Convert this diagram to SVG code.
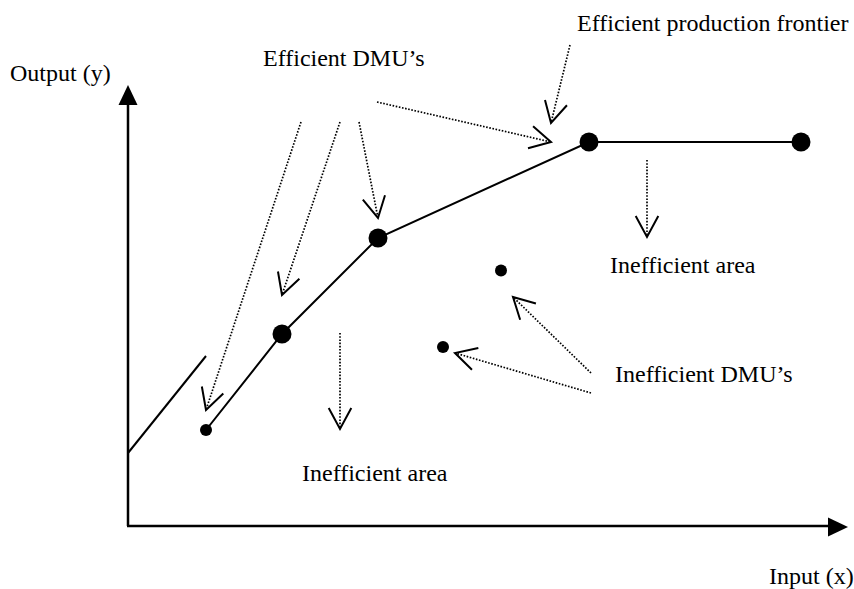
<svg xmlns="http://www.w3.org/2000/svg" width="854" height="589" viewBox="0 0 854 589">
<defs>
<style>
.lbl{font-family:"Liberation Serif","Times New Roman",serif;font-size:24px;fill:#000}
.axis{stroke:#000;stroke-width:2.5;fill:none}
.front{stroke:#000;stroke-width:2;fill:none}
.dot{stroke:#000;stroke-width:1.7;stroke-dasharray:1.6 1.6;fill:none;marker-end:url(#vhead)}
</style>
<marker id="vhead" markerUnits="userSpaceOnUse" markerWidth="30" markerHeight="30" viewBox="-25 -15 30 30" refX="0" refY="0" orient="auto" overflow="visible">
<path d="M-21 -11.3 L0 0 L-21 11.3" fill="none" stroke="#000" stroke-width="2" stroke-dasharray="none"/>
</marker>
</defs>
<rect width="854" height="589" fill="#fff"/>

<g id="axes">
<line class="axis" x1="128" y1="526" x2="128" y2="104"/>
<path d="M128 85 L118.5 105 L137.5 105 Z" fill="#000"/>
<line class="axis" x1="127" y1="526" x2="829" y2="526"/>
<path d="M848 527 L828 517.5 L828 536.5 Z" fill="#000"/>
</g>

<g id="frontier">
<polyline class="front" points="206,430 282,334 378,238 589,142 801,142"/>
<line class="front" x1="128" y1="453" x2="206" y2="356"/>
</g>

<g id="dmu-efficient">
<circle cx="206" cy="430" r="6"/>
<circle cx="282" cy="334" r="9.5"/>
<circle cx="378" cy="238" r="9.5"/>
<circle cx="589" cy="142" r="9.5"/>
<circle cx="801" cy="142" r="9.5"/>
</g>

<g id="dmu-inefficient">
<circle cx="501" cy="270.5" r="6"/>
<circle cx="443" cy="347" r="6"/>
</g>

<g id="connectors">
<line class="dot" x1="301" y1="122" x2="206" y2="410"/>
<line class="dot" x1="340" y1="122" x2="282" y2="295"/>
<line class="dot" x1="359" y1="122" x2="378" y2="218"/>
<line class="dot" x1="377" y1="102" x2="551" y2="142"/>
<line class="dot" x1="570" y1="45" x2="551" y2="123"/>
<line class="dot" x1="647" y1="160" x2="647" y2="237"/>
<line class="dot" x1="340" y1="333" x2="340" y2="429"/>
<line class="dot" x1="591" y1="373" x2="513" y2="297"/>
<line class="dot" x1="591" y1="393" x2="455" y2="353"/>
</g>

<g id="labels">
<text class="lbl" x="10" y="81">Output (y)</text>
<text class="lbl" x="263" y="66">Efficient DMU’s</text>
<text class="lbl" x="577" y="31">Efficient production frontier</text>
<text class="lbl" x="610" y="273">Inefficient area</text>
<text class="lbl" x="615" y="382">Inefficient DMU’s</text>
<text class="lbl" x="302" y="481">Inefficient area</text>
<text class="lbl" x="769" y="584">Input (x)</text>
</g>
</svg>
